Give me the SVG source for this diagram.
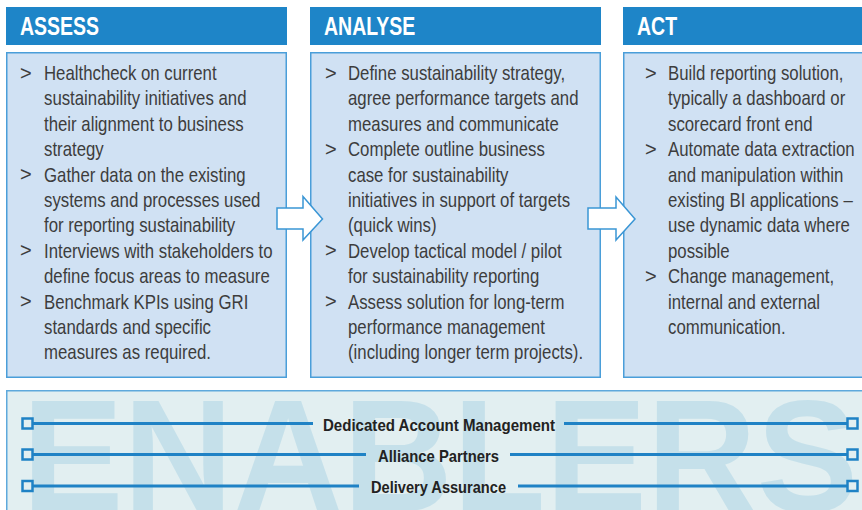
<svg xmlns="http://www.w3.org/2000/svg" width="862" height="510" viewBox="0 0 862 510">
<style>
.hdr{fill:#1e85c8}
.body{fill:#d0e1f3;stroke:#4a9ed9;stroke-width:1.5}
.ht{font-family:"Liberation Sans",Arial,sans-serif;font-weight:bold;font-size:25px;fill:#ffffff}
.bt{font-family:"Liberation Sans",Arial,sans-serif;font-size:20px;fill:#3d3d3d}
.bl{font-family:"Liberation Sans",Arial,sans-serif;font-size:20px;fill:#3d3d3d}
.arrow{fill:#ffffff;stroke:#3a96d5;stroke-width:1.5;stroke-linejoin:miter}
.eline{stroke:#1f82c5;stroke-width:3;fill:none}
.esq{fill:#e2eff1;stroke:#1f82c5;stroke-width:2.5}
.et{font-family:"Liberation Sans",Arial,sans-serif;font-weight:bold;font-size:17px;fill:#222222}
</style>

<g id="node-assess">
  <rect class="hdr" x="6" y="7" width="281" height="38"/>
  <g transform="translate(20,35) scale(0.78,1)"><text class="ht" x="0" y="0">ASSESS</text></g>
  <rect class="body" x="6.75" y="52.75" width="279.5" height="324.5"/>
  <g class="bl">
    <text x="20" y="80">&gt;</text>
    <text x="20" y="181">&gt;</text>
    <text x="20" y="257">&gt;</text>
    <text x="20" y="308">&gt;</text>
  </g>
  <g transform="translate(44,0) scale(0.84,1)" class="bt">
    <text x="0" y="80">Healthcheck on current</text>
    <text x="0" y="105.4">sustainability initiatives and</text>
    <text x="0" y="130.8">their alignment to business</text>
    <text x="0" y="156.2">strategy</text>
    <text x="0" y="181.6">Gather data on the existing</text>
    <text x="0" y="207">systems and processes used</text>
    <text x="0" y="232.4">for reporting sustainability</text>
    <text x="0" y="257.8">Interviews with stakeholders to</text>
    <text x="0" y="283.2">define focus areas to measure</text>
    <text x="0" y="308.6">Benchmark KPIs using GRI</text>
    <text x="0" y="334">standards and specific</text>
    <text x="0" y="359.4">measures as required.</text>
  </g>
</g>

<g id="node-analyse">
  <rect class="hdr" x="310" y="7" width="291" height="38"/>
  <g transform="translate(324,35) scale(0.78,1)"><text class="ht" x="0" y="0">ANALYSE</text></g>
  <rect class="body" x="310.75" y="52.75" width="289.5" height="324.5"/>
  <g class="bl">
    <text x="325" y="80">&gt;</text>
    <text x="325" y="156">&gt;</text>
    <text x="325" y="257">&gt;</text>
    <text x="325" y="308">&gt;</text>
  </g>
  <g transform="translate(348,0) scale(0.84,1)" class="bt">
    <text x="0" y="80">Define sustainability strategy,</text>
    <text x="0" y="105.4">agree performance targets and</text>
    <text x="0" y="130.8">measures and communicate</text>
    <text x="0" y="156.2">Complete outline business</text>
    <text x="0" y="181.6">case for sustainability</text>
    <text x="0" y="207">initiatives in support of targets</text>
    <text x="0" y="232.4">(quick wins)</text>
    <text x="0" y="257.8">Develop tactical model / pilot</text>
    <text x="0" y="283.2">for sustainability reporting</text>
    <text x="0" y="308.6">Assess solution for long-term</text>
    <text x="0" y="334">performance management</text>
    <text x="0" y="359.4">(including longer term projects).</text>
  </g>
</g>

<g id="node-act">
  <rect class="hdr" x="623" y="7" width="245" height="38"/>
  <g transform="translate(637,35) scale(0.78,1)"><text class="ht" x="0" y="0">ACT</text></g>
  <rect class="body" x="623.75" y="52.75" width="245" height="324.5"/>
  <g class="bl">
    <text x="645" y="80">&gt;</text>
    <text x="645" y="156">&gt;</text>
    <text x="645" y="283">&gt;</text>
  </g>
  <g transform="translate(668,0) scale(0.84,1)" class="bt">
    <text x="0" y="80">Build reporting solution,</text>
    <text x="0" y="105.4">typically a dashboard or</text>
    <text x="0" y="130.8">scorecard front end</text>
    <text x="0" y="156.2">Automate data extraction</text>
    <text x="0" y="181.6">and manipulation within</text>
    <text x="0" y="207">existing BI applications –</text>
    <text x="0" y="232.4">use dynamic data where</text>
    <text x="0" y="257.8">possible</text>
    <text x="0" y="283.2">Change management,</text>
    <text x="0" y="308.6">internal and external</text>
    <text x="0" y="334">communication.</text>
  </g>
</g>

<g id="connectors">
  <polygon class="arrow" points="277,208 303,208 303,196.5 322.5,219 303,240 303,229 277,229"/>
  <polygon class="arrow" points="588,208 616,208 616,197 635,219 616,240 616,229 588,229"/>
</g>

<g id="node-enablers">
  <rect x="6.75" y="390.75" width="870" height="130" fill="#e2eff1" stroke="#5ea9dc" stroke-width="1.5"/>
  <text x="22" y="511" font-family="'Liberation Sans',Arial,sans-serif" font-weight="bold" font-size="160" fill="#c5e0ea" textLength="836" lengthAdjust="spacingAndGlyphs">ENABLERS</text>
  <g>
    <line class="eline" x1="33" y1="423.5" x2="313" y2="423.5"/>
    <line class="eline" x1="564" y1="423.5" x2="848" y2="423.5"/>
    <line class="eline" x1="33" y1="454.5" x2="366" y2="454.5"/>
    <line class="eline" x1="510" y1="454.5" x2="848" y2="454.5"/>
    <line class="eline" x1="33" y1="486" x2="359" y2="486"/>
    <line class="eline" x1="518" y1="486" x2="848" y2="486"/>
    <rect class="esq" x="22.5" y="418.5" width="10" height="10"/>
    <rect class="esq" x="22.5" y="449.5" width="10" height="10"/>
    <rect class="esq" x="22.5" y="481" width="10" height="10"/>
    <rect class="esq" x="847.5" y="418.5" width="10" height="10"/>
    <rect class="esq" x="847.5" y="449.5" width="10" height="10"/>
    <rect class="esq" x="847.5" y="481" width="10" height="10"/>
  </g>
  <text class="et" x="323" y="430.5" textLength="232" lengthAdjust="spacingAndGlyphs">Dedicated Account Management</text>
  <text class="et" x="378" y="461.5" textLength="121" lengthAdjust="spacingAndGlyphs">Alliance Partners</text>
  <text class="et" x="371" y="493" textLength="135" lengthAdjust="spacingAndGlyphs">Delivery Assurance</text>
</g>
</svg>
